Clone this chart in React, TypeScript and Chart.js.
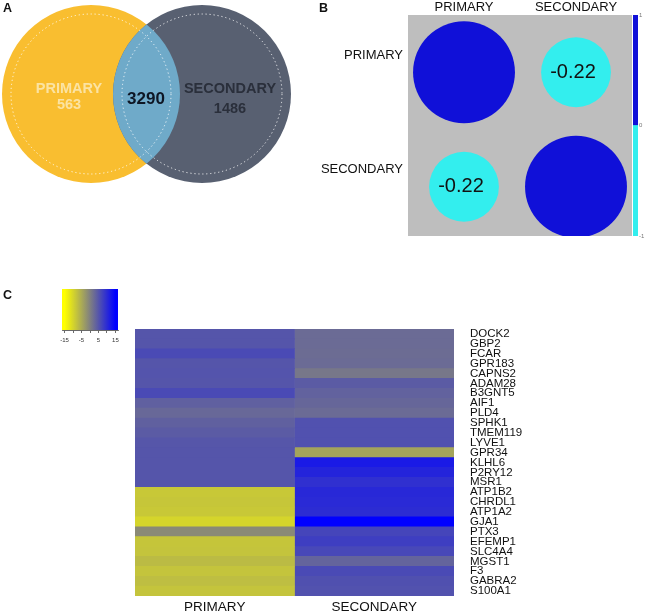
import React, { useEffect, useRef } from 'react';
import { Chart, registerables } from 'chart.js';

Chart.register(...registerables);

const FONT = "'Liberation Sans', Arial, Helvetica, sans-serif";

// ---------- Panel A : Venn ----------
const vennSets = ['PRIMARY', 'SECONDARY'];
const vennUnique = [563, 1486];
const vennShared = 3290;

// ---------- Panel B : correlation ----------
const corrLabels = ['PRIMARY', 'SECONDARY'];
const corrRowPrimary = [1, -0.22];
const corrRowSecondary = [-0.22, 1];
const corrBarTicks = [-1, 0, 1];

// ---------- Panel C : heatmap ----------
const genes = ['DOCK2', 'GBP2', 'FCAR', 'GPR183', 'CAPNS2', 'ADAM28', 'B3GNT5', 'AIF1', 'PLD4', 'SPHK1', 'TMEM119', 'LYVE1', 'GPR34', 'KLHL6', 'P2RY12', 'MSR1', 'ATP1B2', 'CHRDL1', 'ATP1A2', 'GJA1', 'PTX3', 'EFEMP1', 'SLC4A4', 'MGST1', 'F3', 'GABRA2', 'S100A1'];
const conditions = ['PRIMARY', 'SECONDARY'];
const primaryValues = [5, 5, 6.3, 5, 5.2, 5, 6.3, 3.8, 2.8, 3.7, 4.3, 4.9, 5, 5, 5, 5, -8.5, -8.3, -8.5, -10, -1.2, -8.2, -8, -7, -8, -7.3, -8];
const secondaryValues = [2.5, 2.5, 2.3, 2.5, 1.1, 4.3, 3.5, 3, 2.5, 5.5, 5.5, 5.5, -4.3, 12, 10.8, 9.4, 10.3, 10.1, 9.8, 15, 6.9, 7.7, 6.6, 3.3, 6.3, 5.6, 5.4];
const keyTickLabels = [-15, -5, 5, 15];

const KEY_LIMIT = 15;

function heatColor(v: number): string {
  const t = Math.max(-1, Math.min(1, v / KEY_LIMIT));
  const g = [128, 128, 128];
  const end = t < 0 ? [255, 255, 0] : [0, 0, 255];
  const a = Math.abs(t);
  const c = g.map((gv, i) => Math.round(gv + (end[i] - gv) * a));
  return `rgb(${c[0]},${c[1]},${c[2]})`;
}

const CORR_POS = '#1010d8';
const CORR_NEG = '#33eeee';

export default function App() {
  const vennRef = useRef<HTMLCanvasElement>(null);
  const corrRef = useRef<HTMLCanvasElement>(null);
  const barRef = useRef<HTMLCanvasElement>(null);
  const keyRef = useRef<HTMLCanvasElement>(null);
  const heatRef = useRef<HTMLCanvasElement>(null);

  useEffect(() => {
    const charts: Chart[] = [];

    // ---------------- Venn ----------------
    const vennPlugin = {
      id: 'vennDraw',
      afterDatasetsDraw(chart: any) {
        const { ctx } = chart;
        const xs = chart.scales.x;
        const ys = chart.scales.y;
        const X = (v: number) => xs.getPixelForValue(v);
        const Y = (v: number) => ys.getPixelForValue(v);
        const L = (v: number) => X(v) - X(0);
        const c1 = { cx: X(91), cy: Y(94) };
        const c2 = { cx: X(202), cy: Y(94) };
        const R = L(89);
        const circ = (c: any, r: number) => {
          ctx.beginPath();
          ctx.arc(c.cx, c.cy, r, 0, Math.PI * 2);
        };
        ctx.save();
        circ(c1, R); ctx.fillStyle = '#f9be30'; ctx.fill();
        circ(c2, R); ctx.fillStyle = '#586071'; ctx.fill();
        ctx.save();
        circ(c1, R); ctx.clip();
        circ(c2, R); ctx.fillStyle = '#6faac9'; ctx.fill();
        ctx.restore();
        ctx.setLineDash([1.2, 2.8]);
        ctx.strokeStyle = 'rgba(255,255,255,0.85)';
        ctx.lineWidth = 1;
        circ(c1, L(80)); ctx.stroke();
        circ(c2, L(80)); ctx.stroke();
        ctx.setLineDash([]);
        ctx.textAlign = 'center';
        ctx.textBaseline = 'alphabetic';
        ctx.font = `bold 14.5px ${FONT}`;
        ctx.fillStyle = '#fbe3a2';
        ctx.fillText(vennSets[0], X(69), Y(93));
        ctx.fillText(String(vennUnique[0]), X(69), Y(109));
        ctx.fillStyle = '#2a2f3b';
        ctx.fillText(vennSets[1], X(230), Y(93));
        ctx.fillText(String(vennUnique[1]), X(230), Y(113));
        ctx.font = `bold 17px ${FONT}`;
        ctx.fillStyle = '#0e1624';
        ctx.fillText(String(vennShared), X(146), Y(104));
        ctx.restore();
      },
    };
    charts.push(new Chart(vennRef.current!, {
      type: 'scatter',
      data: { datasets: [{ data: [] }] },
      options: {
        responsive: false,
        animation: false,
        layout: { padding: 0 },
        plugins: { legend: { display: false }, tooltip: { enabled: false } },
        scales: {
          x: { type: 'linear', min: 0, max: 300, display: false },
          y: { type: 'linear', min: 0, max: 215, reverse: true, display: false },
        },
      },
      plugins: [vennPlugin],
    } as any));

    // ---------------- Correlation ----------------
    const corrPoints: any[] = [];
    [corrRowPrimary, corrRowSecondary].forEach((row, i) =>
      row.forEach((v, j) => corrPoints.push({ x: j + 0.5, y: i + 0.5, v })));

    const corrPlugin = {
      id: 'corrDraw',
      beforeDatasetsDraw(chart: any) {
        const { ctx, chartArea } = chart;
        ctx.save();
        ctx.fillStyle = '#bebebe';
        ctx.fillRect(chartArea.left, chartArea.top, chartArea.right - chartArea.left, chartArea.bottom - chartArea.top);
        ctx.restore();
      },
      afterDatasetsDraw(chart: any) {
        const { ctx } = chart;
        const xs = chart.scales.x;
        const ys = chart.scales.y;
        ctx.save();
        ctx.font = `20px ${FONT}`;
        ctx.fillStyle = '#111';
        ctx.textAlign = 'center';
        ctx.textBaseline = 'middle';
        corrPoints.forEach((p) => {
          if (Math.abs(p.v) < 1) {
            ctx.fillText(p.v.toFixed(2), xs.getPixelForValue(p.x) - 3, ys.getPixelForValue(p.y));
          }
        });
        ctx.restore();
      },
    };
    const radiusFor = (c: any) => {
      const xs = c.chart.scales.x;
      const unit = xs ? xs.getPixelForValue(1) - xs.getPixelForValue(0) : 112;
      const v = c.raw ? c.raw.v : 1;
      return unit * 0.455 * Math.pow(Math.abs(v), 0.25);
    };
    charts.push(new Chart(corrRef.current!, {
      type: 'scatter',
      data: {
        datasets: [{
          data: corrPoints,
          pointRadius: radiusFor,
          pointHoverRadius: radiusFor,
          pointBorderWidth: 0,
          pointBackgroundColor: (c: any) => (c.raw && c.raw.v >= 0 ? CORR_POS : CORR_NEG),
        }],
      },
      options: {
        responsive: false,
        animation: false,
        layout: { padding: { left: 0, right: 1, top: 0, bottom: 14 } },
        plugins: { legend: { display: false }, tooltip: { enabled: false } },
        scales: {
          x: {
            type: 'linear', position: 'top', min: 0, max: 2,
            grid: { display: false, drawTicks: false },
            border: { display: false },
            afterBuildTicks: (s: any) => { s.ticks = [{ value: 0.5 }, { value: 1.5 }]; },
            afterFit: (s: any) => { s.height = 15; },
            ticks: {
              padding: 0, color: '#111', font: { family: FONT, size: 13 },
              callback: (v: any) => corrLabels[Math.round(Number(v) - 0.5)],
              maxRotation: 0, autoSkip: false,
            },
          },
          y: {
            type: 'linear', min: 0, max: 1.93, reverse: true,
            grid: { display: false, drawTicks: false },
            border: { display: false },
            afterBuildTicks: (s: any) => { s.ticks = [{ value: 0.5 }, { value: 1.5 }]; },
            afterFit: (s: any) => { s.width = 108; },
            ticks: {
              padding: 5, color: '#111', font: { family: FONT, size: 13 },
              labelOffset: -17,
              callback: (v: any) => corrLabels[Math.round(Number(v) - 0.5)],
              autoSkip: false,
            },
          },
        },
      },
      plugins: [corrPlugin],
    } as any));

    // ---------------- Colour bar (B) ----------------
    charts.push(new Chart(barRef.current!, {
      type: 'bar',
      data: {
        labels: [''],
        datasets: [
          { data: [[corrBarTicks[0], corrBarTicks[1]]], backgroundColor: CORR_NEG, borderWidth: 0 },
          { data: [[corrBarTicks[1], corrBarTicks[2]]], backgroundColor: CORR_POS, borderWidth: 0 },
        ],
      },
      options: {
        responsive: false,
        animation: false,
        layout: { padding: { left: 5, right: 0, top: 15, bottom: 14 } },
        plugins: { legend: { display: false }, tooltip: { enabled: false } },
        datasets: { bar: { barPercentage: 1, categoryPercentage: 1, grouped: false } },
        scales: {
          x: { display: false },
          y: {
            position: 'right', min: -1, max: 1,
            grid: { display: false, drawTicks: false },
            border: { display: false },
            afterBuildTicks: (s: any) => { s.ticks = corrBarTicks.map((v) => ({ value: v })); },
            afterFit: (s: any) => { s.width = 10; s.paddingTop = 0; s.paddingBottom = 0; },
            ticks: { padding: 1, color: '#777', font: { family: FONT, size: 6 } },
          },
        },
      },
    } as any));

    // ---------------- Colour key (C) ----------------
    const keyPlugin = {
      id: 'keyGradient',
      beforeDatasetsDraw(chart: any) {
        const { ctx, chartArea } = chart;
        const xs = chart.scales.x;
        const g = ctx.createLinearGradient(chartArea.left, 0, chartArea.right, 0);
        const span = xs.max - xs.min;
        [xs.min, -KEY_LIMIT, -KEY_LIMIT / 2, 0, KEY_LIMIT / 2, KEY_LIMIT, xs.max].forEach((v: number) => {
          g.addColorStop(Math.max(0, Math.min(1, (v - xs.min) / span)), heatColor(v));
        });
        ctx.save();
        ctx.fillStyle = g;
        ctx.fillRect(chartArea.left, chartArea.top, chartArea.right - chartArea.left, chartArea.bottom - chartArea.top);
        ctx.restore();
      },
    };
    charts.push(new Chart(keyRef.current!, {
      type: 'scatter',
      data: { datasets: [{ data: [] }] },
      options: {
        responsive: false,
        animation: false,
        layout: { padding: { left: 12, right: 22, top: 9, bottom: 0 } },
        plugins: { legend: { display: false }, tooltip: { enabled: false } },
        scales: {
          x: {
            type: 'linear', min: -16.5, max: 16.5,
            grid: { display: true, drawOnChartArea: false, drawTicks: true, tickLength: 3, color: '#444', lineWidth: 0.8 },
            border: { display: true, color: '#444', width: 0.8 },
            afterBuildTicks: (s: any) => {
              const t: any[] = [];
              for (let v = -KEY_LIMIT; v <= KEY_LIMIT; v += 5) t.push({ value: v });
              s.ticks = t;
            },
            afterFit: (s: any) => { s.height = 20; },
            ticks: {
              padding: 4, color: '#333', font: { family: FONT, size: 6 }, maxRotation: 0, autoSkip: false,
              callback: (v: any) => (keyTickLabels.includes(Number(v)) ? String(v) : ''),
            },
          },
          y: { display: false, min: 0, max: 1 },
        },
      },
      plugins: [keyPlugin],
    } as any));

    // ---------------- Heatmap ----------------
    charts.push(new Chart(heatRef.current!, {
      type: 'bar',
      data: {
        labels: genes,
        datasets: [
          { label: conditions[0], data: genes.map(() => 1), backgroundColor: primaryValues.map(heatColor), borderWidth: 0 },
          { label: conditions[1], data: genes.map(() => 1), backgroundColor: secondaryValues.map(heatColor), borderWidth: 0 },
        ],
      },
      options: {
        indexAxis: 'y',
        responsive: false,
        animation: false,
        layout: { padding: { left: 135, right: 0, top: 49, bottom: 0 } },
        plugins: { legend: { display: false }, tooltip: { enabled: false } },
        datasets: { bar: { barPercentage: 1, categoryPercentage: 1 } },
        scales: {
          x: {
            type: 'linear', stacked: true, min: 0, max: 2,
            grid: { display: false, drawTicks: false },
            border: { display: false },
            afterBuildTicks: (s: any) => { s.ticks = [{ value: 0.5 }, { value: 1.5 }]; },
            afterFit: (s: any) => { s.height = 18; s.paddingLeft = 0; s.paddingRight = 0; },
            ticks: {
              padding: 3, color: '#111', font: { family: FONT, size: 13.5 }, maxRotation: 0, autoSkip: false,
              callback: (v: any) => conditions[Math.round(Number(v) - 0.5)],
            },
          },
          y: {
            type: 'category', stacked: true, position: 'right', offset: true, z: 1,
            grid: { display: true, offset: true, drawTicks: false, color: 'rgba(255,255,255,0.16)', lineWidth: 1 },
            border: { display: false },
            afterFit: (s: any) => { s.width = 194; s.paddingTop = 0; s.paddingBottom = 0; },
            ticks: { padding: 16, color: '#111', font: { family: FONT, size: 11.5 }, autoSkip: false },
          },
        },
      },
    } as any));

    return () => charts.forEach((c) => c.destroy());
  }, []);

  const letter = (left: number, top: number): React.CSSProperties => ({
    position: 'absolute', left, top, fontFamily: FONT, fontWeight: 'bold', fontSize: 12.5, lineHeight: '12.5px', color: '#111',
  });

  return (
    <div style={{ position: 'fixed', left: 0, top: 0, width: 648, height: 614, background: '#fff', overflow: 'hidden' }}>
      <canvas ref={vennRef} width={300} height={215} style={{ position: 'absolute', left: 0, top: 0, width: 300, height: 215 }} />
      <canvas ref={corrRef} width={333} height={250} style={{ position: 'absolute', left: 300, top: 0, width: 333, height: 250 }} />
      <canvas ref={barRef} width={20} height={250} style={{ position: 'absolute', left: 628, top: 0, width: 20, height: 250 }} />
      <canvas ref={keyRef} width={90} height={70} style={{ position: 'absolute', left: 50, top: 280, width: 90, height: 70 }} />
      <canvas ref={heatRef} width={648} height={334} style={{ position: 'absolute', left: 0, top: 280, width: 648, height: 334 }} />
      <div style={letter(3, 2)}>A</div>
      <div style={letter(319, 2)}>B</div>
      <div style={letter(3, 289)}>C</div>
    </div>
  );
}
